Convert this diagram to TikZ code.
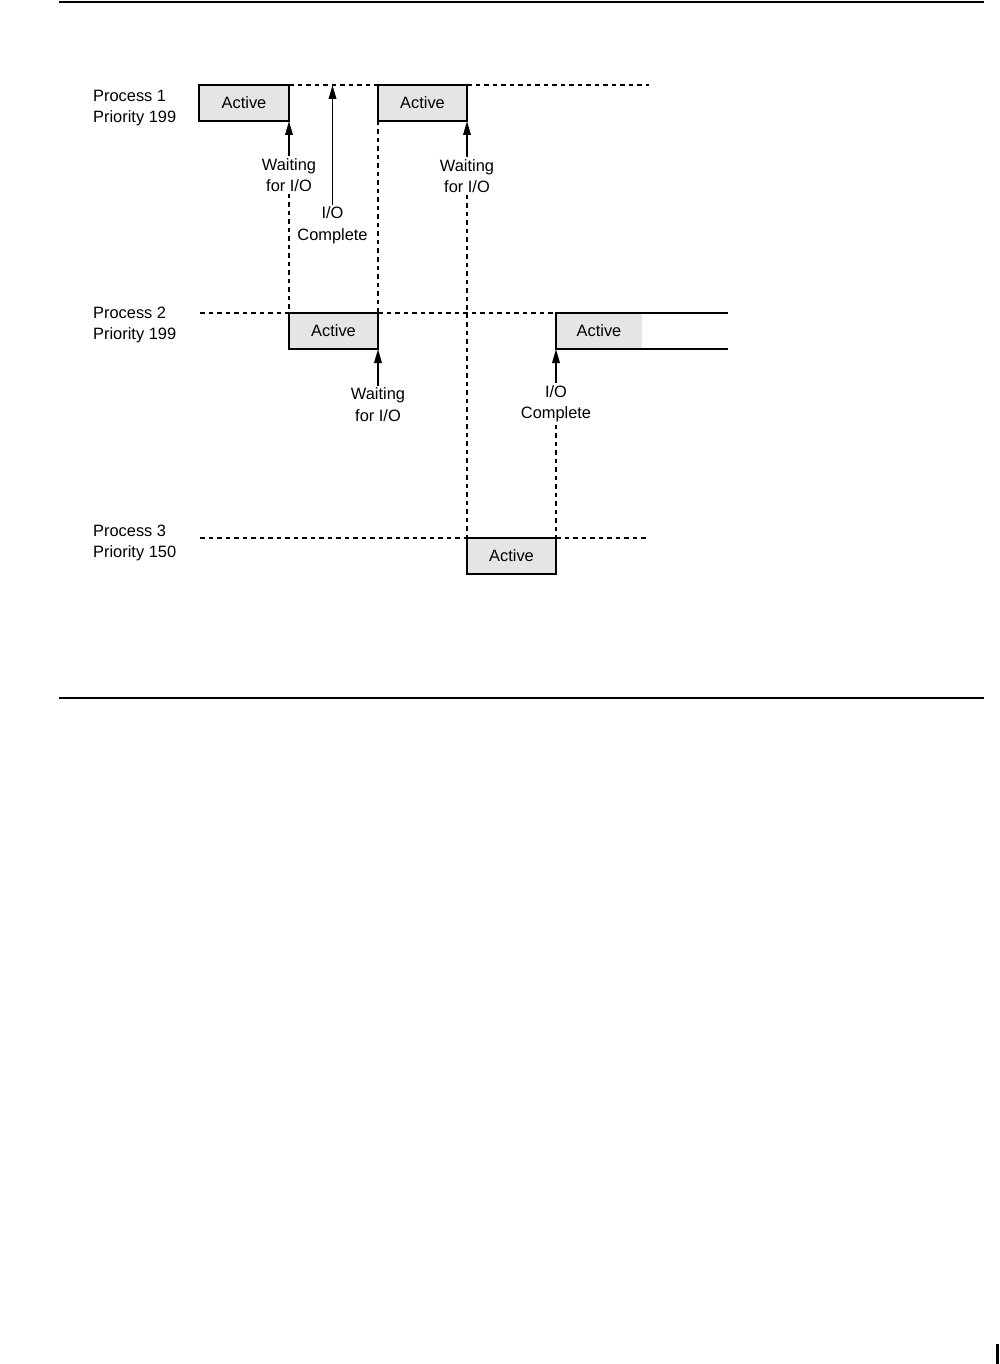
\documentclass[tikz,border=0pt]{standalone}
\usepackage{fontspec}
\setmainfont{Liberation Sans}
\usetikzlibrary{arrows.meta}
\begin{document}
\begin{tikzpicture}[x=1pt,y=-1pt,
  every node/.style={font=\fontsize{16.4}{21.5}\selectfont},
  actbox/.style={draw=black,line width=1.6pt,fill=black!10,inner sep=0pt,outer sep=0pt,minimum height=36pt},
  lbl/.style={align=center,inner sep=2pt},
  plbl/.style={align=left,anchor=west,inner sep=0pt},
  timeline/.style={dash pattern=on 4.5pt off 4pt,line width=1.6pt},
  evarrow/.style={line width=1.8pt,-{Triangle[length=14pt,width=7.5pt]}},
  rule/.style={line width=2pt}]
\useasboundingbox (0,0) rectangle (1000,1364);
% rules
\coordinate (r1a) at (59,2); \coordinate (r1b) at (984,2);
\coordinate (r2a) at (59,698); \coordinate (r2b) at (984,698);
\draw[rule] (r1a) -- (r1b);
\draw[rule] (r2a) -- (r2b);
\fill (995.5,1344) rectangle (998.5,1364);
% process labels
\node[plbl] (p1) at (93,108) {Process 1\\Priority 199};
\node[plbl] (p2) at (93,325) {Process 2\\Priority 199};
\node[plbl] (p3) at (93,543) {Process 3\\Priority 150};
% boxes
\node[actbox,minimum width=90pt] (A1) at (244,103) {Active};
\node[actbox,minimum width=89pt] (A2) at (422.5,103) {Active};
\node[actbox,minimum width=89pt] (B1) at (333.5,331) {Active};
\node[actbox,minimum width=89pt] (C1) at (511.5,556) {Active};
\node[fill=black!10,inner sep=0pt,outer sep=0pt,minimum height=36pt,minimum width=86pt] (B2) at (599,331) {Active};
\coordinate (B2t) at (728,313);
\coordinate (B2b) at (728,349);
\draw[line width=1.6pt] (B2t) -- (B2.north west) -- (B2.south west) -- (B2b);
% line ends
\coordinate (e1) at (649,85);
\coordinate (s2) at (200,313);
\coordinate (s3) at (200,538);
\coordinate (e3) at (649,538);
% timelines
\draw[timeline] (A1.north east) -- (A2.north west);
\draw[timeline] (A2.north east) -- (e1);
\draw[timeline] (s2) -- (B1.north west);
\draw[timeline] (B1.north east) -- (B2.north west);
\draw[timeline] (s3) -- (C1.north west);
\draw[timeline] (C1.north east) -- (e3);
% event labels
\node[lbl] (w1) at (289,175) {Waiting\\for I/O};
\node[lbl] (io1) at (332.5,225.5) {I/O\\Complete};
\node[lbl] (w2) at (467,176) {Waiting\\for I/O};
\node[lbl] (w3) at (378,404.5) {Waiting\\for I/O};
\node[lbl] (io2) at (556,404) {I/O\\Complete};
% arrows
\draw[evarrow] (w1.north) -- (A1.south east);
\draw[evarrow] (io1.north) -- (io1.north |- A1.north);
\draw[evarrow] (w2.north) -- (A2.south east);
\draw[evarrow] (w3.north) -- (B1.south east);
\draw[evarrow] (io2.north) -- (B2.south west);
% dashed transitions
\draw[timeline] (w1.south) -- (B1.north west);
\draw[timeline] (A2.south west) -- (B1.north east);
\draw[timeline] (w2.south) -- (C1.north west);
\draw[timeline] (io2.south) -- (C1.north east);
\end{tikzpicture}
\end{document}
